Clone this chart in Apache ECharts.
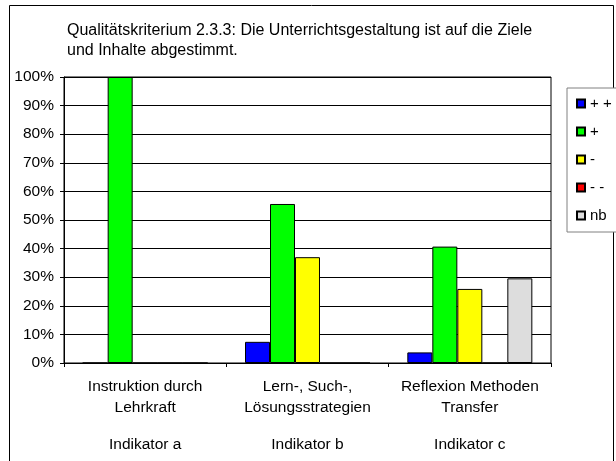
<!DOCTYPE html>
<html>
<head>
<meta charset="utf-8">
<script src="https://cdn.jsdelivr.net/npm/echarts@6/dist/echarts.min.js"></script>
<style>
  html, body { margin: 0; padding: 0; background: #fff; }
  #chart { width: 616px; height: 461px; }
</style>
</head>
<body>
<div id="chart"></div>
<script>
// data
const categories = ['Instruktion durch\nLehrkraft', 'Lern-, Such-,\nLösungsstrategien', 'Reflexion Methoden\nTransfer']
const indicators = ['Indikator a', 'Indikator b', 'Indikator c']
const seriesNames = ['+ +', '+', '-', '- -', 'nb']
const seriesColors = ['#0000ff', '#00ff00', '#ffff00', '#ff0000', '#dddddd']
const valPlusPlus = [0, 7.4, 3.7]
const valPlus = [100, 55.6, 40.7]
const valMinus = [0, 37.0, 25.9]
const valMinusMinus = [0, 0, 0]
const valNb = [0, 0, 29.6]
const seriesValues = [valPlusPlus, valPlus, valMinus, valMinusMinus, valNb]

const chart = echarts.init(document.getElementById('chart'))

const font = 'Liberation Sans, Arial, sans-serif'

chart.setOption({
  backgroundColor: '#fff',
  animation: false,
  title: {
    text: 'Qualitätskriterium 2.3.3: Die Unterrichtsgestaltung ist auf die Ziele\nund Inhalte abgestimmt.',
    left: 67,
    top: 21,
    padding: 0,
    textStyle: { fontFamily: font, fontSize: 16, fontWeight: 'normal', color: '#000', lineHeight: 20 },
  },
  graphic: [
    {
      type: 'rect',
      shape: { x: 9.5, y: 5.5, width: 604, height: 480 },
      style: { fill: 'none', stroke: '#000', lineWidth: 1 },
      z: -1,
    },
  ],
  legend: {
    orient: 'vertical',
    left: 567,
    top: 88,
    padding: [8, 30, 9, 9],
    itemGap: 13,
    itemWidth: 8,
    itemHeight: 8,
    icon: 'rect',
    backgroundColor: '#fff',
    borderColor: '#808080',
    borderWidth: 1,
    textStyle: { fontFamily: font, fontSize: 15, color: '#000' },
    data: seriesNames,
  },
  grid: {
    left: 64,
    top: 77,
    right: 65,
    bottom: 98,
    show: true,
    borderColor: '#000',
    borderWidth: 1,
  },
  xAxis: {
    type: 'category',
    data: categories,
    axisLine: { lineStyle: { color: '#000' } },
    axisTick: { show: true, length: 4, lineStyle: { color: '#000' } },
    axisLabel: {
      margin: 13,
      interval: 0,
      formatter: (value, index) => `{a|${value}}\n{b|${indicators[index]}}`,
      rich: {
        a: { fontFamily: font, fontSize: 15.5, color: '#000', lineHeight: 21, align: 'center' },
        b: { fontFamily: font, fontSize: 15.5, color: '#000', lineHeight: 53, align: 'center' },
      },
    },
  },
  yAxis: {
    type: 'value',
    min: 0,
    max: 100,
    interval: 10,
    axisLine: { show: true, lineStyle: { color: '#000' } },
    axisTick: { show: true, length: 4, lineStyle: { color: '#000' } },
    axisLabel: { formatter: '{value}%', margin: 10, fontFamily: font, fontSize: 15.5, color: '#000' },
    splitLine: { lineStyle: { color: '#000', width: 1 } },
  },
  series: seriesNames.map((name, i) => ({
    name,
    type: 'bar',
    barGap: '0%',
    barCategoryGap: '23%',
    data: seriesValues[i],
    itemStyle: { color: seriesColors[i], borderColor: '#000', borderWidth: 1 },
  })),
})
</script>
</body>
</html>
